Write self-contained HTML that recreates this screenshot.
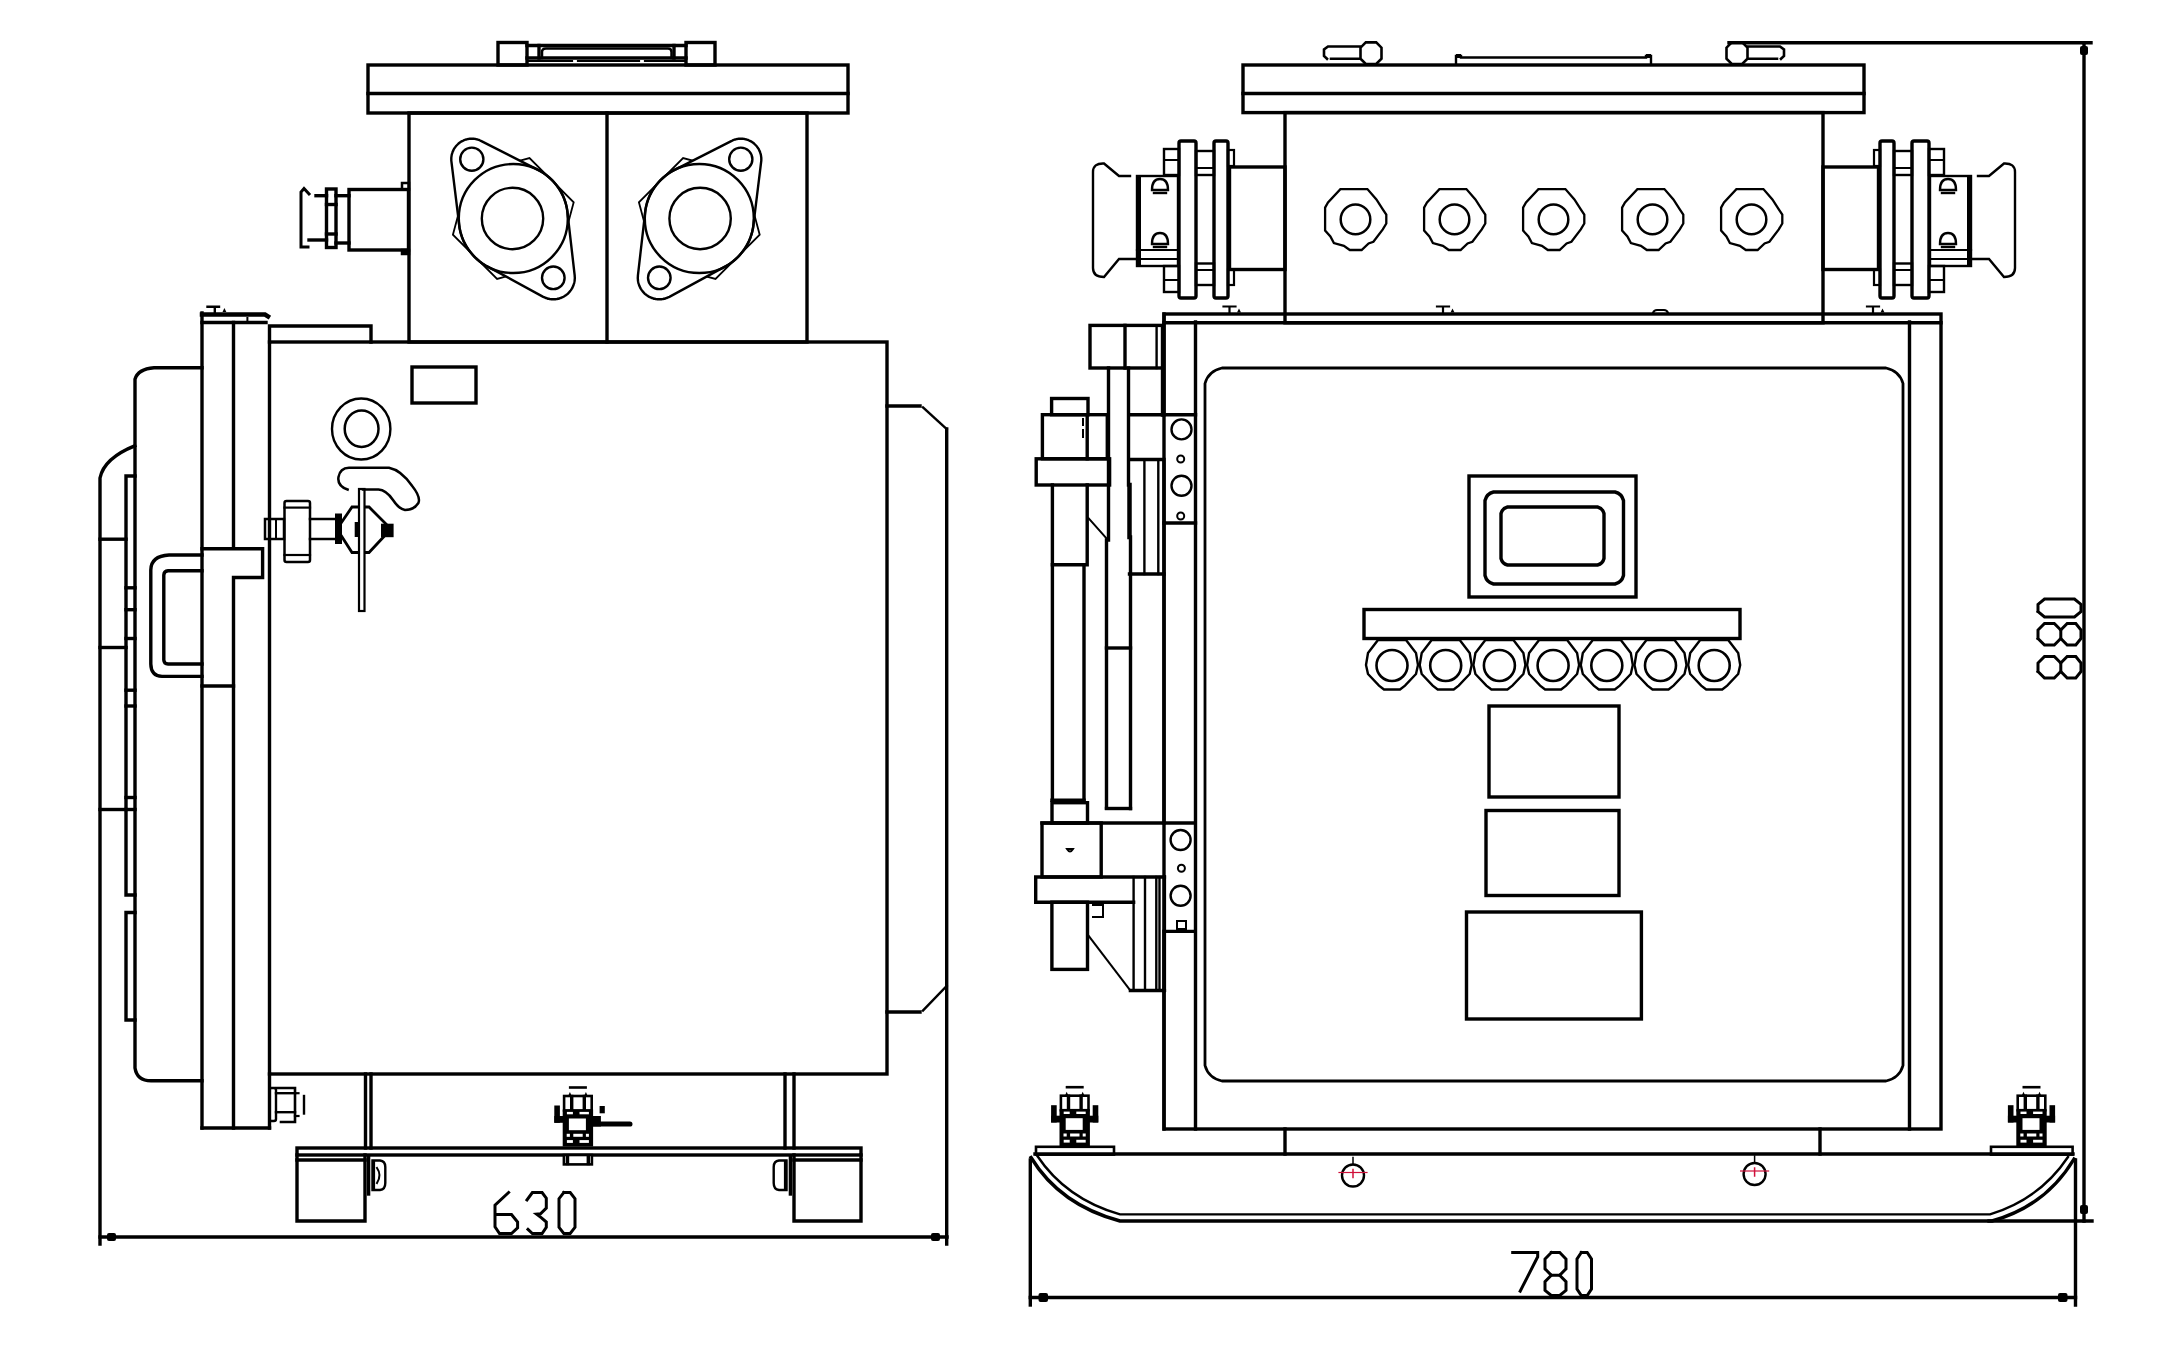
<!DOCTYPE html>
<html><head><meta charset="utf-8"><title>drawing</title>
<style>
html,body{margin:0;padding:0;background:#fff;}
body{width:2178px;height:1359px;overflow:hidden;font-family:"Liberation Sans",sans-serif;}
svg{display:block;}
</style></head><body>
<svg width="2178" height="1359" viewBox="0 0 2178 1359">
<rect x="0" y="0" width="2178" height="1359" fill="#fff"/>
<g fill="none" stroke="#000" stroke-width="3.4" stroke-linecap="square" stroke-linejoin="miter">
<rect x="368" y="65" width="480" height="48"/>
<line x1="368" y1="93.5" x2="848" y2="93.5"/>
<rect x="498" y="42.5" width="29" height="22.5"/>
<rect x="686" y="42.5" width="29" height="22.5"/>
<line x1="527" y1="45.5" x2="686" y2="45.5"/>
<line x1="527" y1="58" x2="686" y2="58"/>
<line x1="539" y1="45.5" x2="539" y2="58"/>
<line x1="674" y1="45.5" x2="674" y2="58"/>
<path d="M542 58 V52 Q542 48.5 546 48.5 H668 Q671.5 48.5 671.5 52 V58" stroke-width="2.5"/>
<path d="M529 61 H572 M578 61 H639 M645 61 H684" stroke-width="2.2"/>
<rect x="409" y="113" width="398" height="229"/>
<line x1="607" y1="113" x2="607" y2="342"/>
<polygon points="573.7,202.3 557.5,262.7 497.1,278.9 452.9,234.7 469.1,174.3 529.5,158.1" stroke-width="1.8"/>
<polygon points="451.3,159.2 451.3,158.5 451.3,157.8 451.4,157.1 451.5,156.3 451.6,155.6 451.7,154.9 451.9,154.2 452.1,153.5 452.3,152.9 452.5,152.2 452.8,151.5 453.1,150.9 453.4,150.2 453.7,149.6 454,148.9 454.4,148.3 454.8,147.7 455.2,147.2 455.6,146.6 456.1,146 456.6,145.5 457.1,145 457.6,144.5 458.1,144 458.6,143.5 459.2,143 459.8,142.6 460.3,142.2 460.9,141.8 461.6,141.4 462.2,141.1 462.8,140.8 463.5,140.5 464.1,140.2 464.8,139.9 465.5,139.7 466.1,139.5 466.8,139.3 467.5,139.1 468.2,139 468.9,138.9 469.7,138.8 470.4,138.7 471.1,138.7 471.8,138.7 472.5,138.7 473.2,138.7 473.9,138.8 474.7,138.9 475.4,139 476.1,139.1 476.8,139.3 477.5,139.5 478.1,139.7 478.8,139.9 479.5,140.2 480.1,140.5 480.8,140.8 481.4,141.1 538.9,170.4 540.5,171.3 542.2,172.3 543.8,173.3 545.3,174.4 546.9,175.6 548.3,176.8 549.8,178 551.2,179.3 552.5,180.6 553.8,182 555,183.5 556.2,184.9 557.4,186.5 558.5,188 559.5,189.6 560.5,191.2 561.4,192.9 562.3,194.6 563.1,196.3 563.8,198.1 564.5,199.9 565.1,201.7 565.7,203.5 566.2,205.3 566.6,207.2 567,209 567.3,210.9 567.5,212.8 574.7,275.6 574.7,276.3 574.8,277 574.8,277.8 574.8,278.6 574.7,279.3 574.7,280 574.6,280.8 574.5,281.5 574.3,282.3 574.2,283 574,283.7 573.7,284.4 573.5,285.2 573.2,285.9 572.9,286.5 572.6,287.2 572.3,287.9 571.9,288.6 571.5,289.2 571.1,289.8 570.7,290.4 570.2,291 569.8,291.6 569.3,292.2 568.8,292.7 568.2,293.3 567.7,293.8 567.1,294.3 566.5,294.7 565.9,295.2 565.3,295.6 564.7,296 564,296.4 563.4,296.8 562.7,297.1 562,297.4 561.4,297.7 560.7,298 559.9,298.2 559.2,298.5 558.5,298.7 557.8,298.8 557,299 556.3,299.1 555.5,299.2 554.8,299.2 554.1,299.3 553.3,299.3 552.5,299.3 551.8,299.2 551.1,299.2 550.3,299.1 549.6,299 548.8,298.8 548.1,298.7 547.4,298.5 546.7,298.2 545.9,298 545.2,297.7 544.6,297.4 543.9,297.1 543.2,296.8 487.7,266.6 486,265.7 484.4,264.7 482.8,263.7 481.3,262.6 479.7,261.4 478.3,260.2 476.8,259 475.4,257.7 474.1,256.4 472.8,255 471.6,253.5 470.4,252.1 469.2,250.5 468.1,249 467.1,247.4 466.1,245.8 465.2,244.1 464.3,242.4 463.5,240.7 462.8,238.9 462.1,237.1 461.5,235.3 460.9,233.5 460.4,231.7 460,229.8 459.6,228 459.3,226.1 459.1,224.2 451.4,161.3 451.3,160.6 451.3,159.9" stroke-width="2.4" fill="#fff"/>
<circle cx="513.3" cy="218.5" r="54.5" stroke-width="2.4"/>
<circle cx="512.5" cy="218.5" r="30.7" stroke-width="2.4"/>
<circle cx="471.8" cy="159.2" r="11.6" stroke-width="2.4"/>
<circle cx="553.3" cy="277.8" r="11.3" stroke-width="2.4"/>
<polygon points="638.9,202.3 655.1,262.7 715.5,278.9 759.7,234.7 743.5,174.3 683.1,158.1" stroke-width="1.8"/>
<polygon points="761.3,159.2 761.3,158.5 761.3,157.8 761.2,157.1 761.1,156.3 761,155.6 760.9,154.9 760.7,154.2 760.5,153.5 760.3,152.9 760.1,152.2 759.8,151.5 759.5,150.9 759.2,150.2 758.9,149.6 758.6,148.9 758.2,148.3 757.8,147.7 757.4,147.2 757,146.6 756.5,146 756,145.5 755.5,145 755,144.5 754.5,144 754,143.5 753.4,143 752.8,142.6 752.3,142.2 751.7,141.8 751,141.4 750.4,141.1 749.8,140.8 749.1,140.5 748.5,140.2 747.8,139.9 747.1,139.7 746.5,139.5 745.8,139.3 745.1,139.1 744.4,139 743.7,138.9 742.9,138.8 742.2,138.7 741.5,138.7 740.8,138.7 740.1,138.7 739.4,138.7 738.7,138.8 737.9,138.9 737.2,139 736.5,139.1 735.8,139.3 735.1,139.5 734.5,139.7 733.8,139.9 733.1,140.2 732.5,140.5 731.8,140.8 731.2,141.1 673.7,170.4 672,171.3 670.4,172.3 668.8,173.3 667.3,174.4 665.7,175.6 664.3,176.8 662.8,178 661.4,179.3 660.1,180.6 658.8,182 657.6,183.5 656.4,184.9 655.2,186.5 654.1,188 653.1,189.6 652.1,191.2 651.2,192.9 650.3,194.6 649.5,196.3 648.8,198.1 648.1,199.9 647.5,201.7 646.9,203.5 646.4,205.3 646,207.2 645.6,209 645.3,210.9 645.1,212.8 637.9,275.6 637.9,276.3 637.8,277 637.8,277.8 637.8,278.6 637.9,279.3 637.9,280 638,280.8 638.1,281.5 638.3,282.3 638.4,283 638.6,283.7 638.9,284.4 639.1,285.2 639.4,285.9 639.7,286.5 640,287.2 640.3,287.9 640.7,288.6 641.1,289.2 641.5,289.8 641.9,290.4 642.4,291 642.8,291.6 643.3,292.2 643.8,292.7 644.4,293.3 644.9,293.8 645.5,294.3 646.1,294.7 646.7,295.2 647.3,295.6 647.9,296 648.5,296.4 649.2,296.8 649.9,297.1 650.6,297.4 651.2,297.7 651.9,298 652.7,298.2 653.4,298.5 654.1,298.7 654.8,298.8 655.6,299 656.3,299.1 657.1,299.2 657.8,299.2 658.5,299.3 659.3,299.3 660.1,299.3 660.8,299.2 661.5,299.2 662.3,299.1 663,299 663.8,298.8 664.5,298.7 665.2,298.5 665.9,298.2 666.7,298 667.4,297.7 668,297.4 668.7,297.1 669.4,296.8 724.9,266.6 726.5,265.7 728.2,264.7 729.8,263.7 731.3,262.6 732.9,261.4 734.3,260.2 735.8,259 737.2,257.7 738.5,256.4 739.8,255 741,253.5 742.2,252.1 743.4,250.5 744.5,249 745.5,247.4 746.5,245.8 747.4,244.1 748.3,242.4 749.1,240.7 749.8,238.9 750.5,237.1 751.1,235.3 751.7,233.5 752.2,231.7 752.6,229.8 753,228 753.3,226.1 753.5,224.2 761.2,161.3 761.3,160.6 761.3,159.9" stroke-width="2.4" fill="#fff"/>
<circle cx="699.3" cy="218.5" r="54.5" stroke-width="2.4"/>
<circle cx="700.1" cy="218.5" r="30.7" stroke-width="2.4"/>
<circle cx="740.8" cy="159.2" r="11.6" stroke-width="2.4"/>
<circle cx="659.3" cy="277.8" r="11.3" stroke-width="2.4"/>
<rect x="349" y="189.5" width="59.5" height="60.5"/>
<rect x="402" y="183" width="7" height="6.5" stroke-width="2.5"/>
<rect x="402" y="250" width="7" height="4" stroke-width="2.5" fill="#000"/>
<rect x="326.5" y="189" width="9.5" height="58.5"/>
<line x1="326.5" y1="204.5" x2="336" y2="204.5"/>
<line x1="326.5" y1="234" x2="336" y2="234"/>
<line x1="336" y1="195.7" x2="349" y2="195.7"/>
<line x1="336" y1="243" x2="349" y2="243"/>
<line x1="316" y1="195.7" x2="326.5" y2="195.7"/>
<line x1="309" y1="240" x2="326.5" y2="240"/>
<path d="M308 247 H301 V192 L304 188.5 L309 194" stroke-width="3"/>
<rect x="269.5" y="342" width="617.5" height="732"/>
<path d="M269.5 342 V326 H371 V342"/>
<rect x="412" y="367" width="64" height="36"/>
<ellipse cx="361.2" cy="429" rx="29.2" ry="30.5" stroke-width="2.4"/>
<ellipse cx="361.6" cy="428.8" rx="16.9" ry="18.2" stroke-width="2.5"/>
<path d="M202 314.6 H265 L268 316.5" stroke-width="4.5"/>
<line x1="202" y1="313" x2="202" y2="1128"/>
<line x1="202" y1="322.5" x2="266" y2="322.5"/>
<line x1="247.4" y1="318" x2="247.4" y2="322" stroke-width="2"/>
<line x1="202" y1="1128" x2="269.5" y2="1128"/>
<line x1="269.5" y1="1074" x2="269.5" y2="1128"/>
<path d="M233.5 322.5 V548.8 M202 548.8 H262.6 V577.5 H233.5 V1128"/>
<line x1="202" y1="686" x2="233.5" y2="686"/>
<path d="M207.5 306.8 H219 M214.8 306.8 V312" stroke-width="2.4"/>
<polygon points="222.5,312 224.4,308 226.3,312" stroke-width="0" fill="#000"/>
<path d="M202 555 H169 Q151 556 150.8 570 V664 Q151 676 162 676.4 H202"/>
<path d="M202 570.7 H168 Q164 571 163.8 575 V660 Q164 664 168 664 H202"/>
<path d="M202 367.8 H154 Q138 369 135 379.3 V1068 Q137 1080.8 151 1080.8 H202"/>
<path d="M134.8 445.8 Q104 458 100 478 V1244"/>
<path d="M135 476 H126 V895 H135 M135 912.5 H126 V1020 H135"/>
<line x1="126" y1="587.8" x2="135" y2="587.8"/>
<line x1="126" y1="609.7" x2="135" y2="609.7"/>
<line x1="126" y1="638.5" x2="135" y2="638.5"/>
<line x1="126" y1="690.2" x2="135" y2="690.2"/>
<line x1="126" y1="706" x2="135" y2="706"/>
<line x1="126" y1="797.5" x2="135" y2="797.5"/>
<line x1="126" y1="809.5" x2="135" y2="809.5"/>
<line x1="100" y1="539.2" x2="126" y2="539.2"/>
<line x1="100" y1="647.5" x2="126" y2="647.5"/>
<line x1="100" y1="809.5" x2="126" y2="809.5"/>
<rect x="265" y="519" width="19" height="20" stroke-width="2.5"/>
<line x1="276" y1="519" x2="276" y2="539" stroke-width="2"/>
<rect x="284.5" y="501" width="25.5" height="61" rx="2" stroke-width="2.5"/>
<line x1="284.5" y1="507.6" x2="310" y2="507.6" stroke-width="2.2"/>
<line x1="284.5" y1="555" x2="310" y2="555" stroke-width="2.2"/>
<line x1="310" y1="519" x2="334" y2="519" stroke-width="2.5"/>
<line x1="310" y1="539" x2="334" y2="539" stroke-width="2.5"/>
<polygon points="337,529 352,507 369,507 391,529 369,552.5 352,552.5" stroke-width="2.8"/>
<rect x="335" y="513.5" width="7" height="30.5" stroke-width="0" fill="#000"/>
<rect x="381" y="523.7" width="12.6" height="13.5" stroke-width="0" fill="#000"/>
<rect x="354.7" y="522" width="3.3" height="15" stroke-width="0" fill="#000"/>
<rect x="359" y="489" width="5.5" height="122" stroke-width="2.2" fill="#fff"/>
<path d="M347.6 489.6 Q337 486 338.5 477 Q340 468 349 467.7 H389 Q401 470 412 485.7 Q421 497 418.4 503 Q414 510 405 510 Q399 509 393 500 Q386 490 378.5 489.6 H363" stroke-width="2.5"/>
<path d="M887 406 H920"/>
<line x1="923" y1="407.5" x2="946.7" y2="429" stroke-width="2.4"/>
<line x1="946.7" y1="429" x2="946.7" y2="1244"/>
<line x1="946.7" y1="986" x2="923" y2="1010.5" stroke-width="2.4"/>
<path d="M920 1012 H887"/>
<line x1="365.5" y1="1074" x2="365.5" y2="1148"/>
<line x1="371" y1="1074" x2="371" y2="1148"/>
<line x1="785" y1="1074" x2="785" y2="1148"/>
<line x1="794" y1="1074" x2="794" y2="1148"/>
<rect x="297" y="1148" width="564" height="7"/>
<path d="M297 1155 V1221 H365 V1155"/>
<line x1="297" y1="1160" x2="365" y2="1160"/>
<path d="M794 1155 V1221 H861 V1155"/>
<line x1="794" y1="1160" x2="861" y2="1160"/>
<path d="M368.6 1156 V1194"/>
<path d="M372.5 1160.5 H380 Q385.3 1161 385.3 1167 V1183 Q385.3 1189.5 380 1190 H372.5 Z" stroke-width="2.4"/>
<line x1="373.5" y1="1162" x2="373.5" y2="1189" stroke-width="3.2"/>
<path d="M377 1168 Q382 1175 377 1183" stroke-width="2"/>
<path d="M790.4 1156 V1194"/>
<path d="M786.5 1160.5 H779 Q773.7 1161 773.7 1167 V1183 Q773.7 1189.5 779 1190 H786.5 Z" stroke-width="2.4"/>
<line x1="785.5" y1="1162" x2="785.5" y2="1189" stroke-width="3.2"/>
<rect x="269.5" y="1088" width="6.5" height="33" rx="2" stroke-width="2.4"/>
<path d="M276 1088 H295 V1122 H281" stroke-width="2.6"/>
<line x1="276" y1="1093.2" x2="295" y2="1093.2" stroke-width="2.4"/>
<line x1="276" y1="1112.2" x2="295" y2="1112.2" stroke-width="2.4"/>
<line x1="295" y1="1093.2" x2="298.5" y2="1093.2" stroke-width="2.2"/>
<line x1="295" y1="1116" x2="298.5" y2="1116" stroke-width="2.2"/>
<line x1="304" y1="1096" x2="304" y2="1113.5" stroke-width="2.4"/>
<line x1="570.2" y1="1087.5" x2="585.6" y2="1087.5" stroke-width="2.6"/>
<polygon points="568.1,1096 569.9,1092 571.7,1096" stroke-width="0" fill="#000"/>
<polygon points="584.1,1096 585.9,1092 587.7,1096" stroke-width="0" fill="#000"/>
<rect x="564.1" y="1096" width="27.6" height="14.5" stroke-width="2.6" fill="#fff"/>
<line x1="571.7" y1="1096.5" x2="571.7" y2="1109.5" stroke-width="3.4"/>
<line x1="584.3" y1="1096.5" x2="584.3" y2="1109.5" stroke-width="3.4"/>
<rect x="562.7" y="1109.5" width="30.4" height="37" stroke-width="0" fill="#000"/>
<rect x="566.9" y="1111.9" width="6" height="2.4" stroke-width="0" fill="#fff"/>
<rect x="579.5" y="1111.9" width="9.4" height="2.4" stroke-width="0" fill="#fff"/>
<rect x="568.9" y="1118.5" width="17" height="11.7" stroke-width="0" fill="#fff"/>
<rect x="566.7" y="1133.8" width="3.2" height="3" stroke-width="0" fill="#fff"/>
<rect x="573.3" y="1133.8" width="9.4" height="3" stroke-width="0" fill="#fff"/>
<rect x="585.9" y="1133.8" width="3" height="3" stroke-width="0" fill="#fff"/>
<rect x="566.9" y="1140.1" width="6" height="2.8" stroke-width="0" fill="#fff"/>
<rect x="579.5" y="1140.1" width="9.4" height="2.8" stroke-width="0" fill="#fff"/>
<rect x="554.3" y="1105.5" width="5.6" height="17.3" stroke-width="0" fill="#000"/>
<rect x="554.3" y="1116" width="9.6" height="6.8" stroke-width="0" fill="#000"/>
<rect x="599.6" y="1106" width="5.2" height="7.3" stroke-width="0" fill="#000"/>
<rect x="591.9" y="1116" width="9" height="10.5" stroke-width="0" fill="#000"/>
<path d="M591.9 1124 H629.9" stroke-width="5.2" stroke-linecap="round"/>
<rect x="563.9" y="1155" width="28" height="9.4" stroke-width="2.6" fill="#fff"/>
<line x1="567.5" y1="1156" x2="567.5" y2="1163.5" stroke-width="3.4"/>
<line x1="588.3" y1="1156" x2="588.3" y2="1163.5" stroke-width="3.4"/>
<line x1="100" y1="1237" x2="947" y2="1237"/>
<rect x="107" y="1233" width="9" height="8" rx="2" stroke-width="0" fill="#000"/>
<rect x="931" y="1233" width="9" height="8" rx="2" stroke-width="0" fill="#000"/>
<polyline points="508.6,1192.5 495,1205.2 495,1226.9 499.5,1233.5 511.5,1233.5 517.6,1227.8 517.6,1222 511.5,1214.6 495,1214.6" stroke-width="3"/>
<polyline points="527,1199.9 532.4,1192.5 542.1,1192.5 546.3,1198.2 546.3,1208.1 540.5,1213.8 536.6,1214.2 541.5,1217.9 546.3,1222 546.3,1227.3 542.1,1233.5 532.4,1233.5 528,1229.4" stroke-width="3"/>
<polyline points="563.8,1192.5 570.2,1192.5 575,1198.7 575,1227.3 570.2,1233.5 563.8,1233.5 559,1227.3 559,1198.7 563.8,1192.5" stroke-width="3"/>
<rect x="1243" y="65" width="621" height="47.6"/>
<line x1="1243" y1="93.5" x2="1864" y2="93.5"/>
<path d="M1360 46.5 H1328 L1324 49.5 V56 L1327 58.8 M1331 58.8 H1360" stroke-width="2.6"/>
<polygon points="1365.8,42.4 1376.2,42.4 1381.5,47.7 1381.5,58.7 1376.2,64 1365.8,64 1360.5,58.7 1360.5,47.7" stroke-width="2.6" fill="#fff"/>
<path d="M1748 46.5 H1780 L1784 49.5 V56 L1781 58.8 M1777 58.8 H1748" stroke-width="2.6"/>
<polygon points="1742.2,42.4 1731.8,42.4 1726.5,47.7 1726.5,58.7 1731.8,64 1742.2,64 1747.5,58.7 1747.5,47.7" stroke-width="2.6" fill="#fff"/>
<path d="M1456 64.5 V56 H1461 V57.5 H1646 V56 H1651 V64.5" stroke-width="2.4"/>
<rect x="1456" y="54" width="5" height="4" stroke-width="0" fill="#000"/>
<rect x="1646" y="54" width="5" height="4" stroke-width="0" fill="#000"/>
<rect x="1285" y="112.6" width="538" height="210.2"/>
<polygon points="1340.4,189.1 1367.4,189.1 1376.4,199.4 1382.8,209.4 1386.3,214.7 1386.3,223.5 1382.8,229.4 1373.4,241.8 1368.6,243.5 1361.6,250 1349.8,250 1343.9,245.9 1333.9,243 1330.4,236.5 1325.1,230.6 1325.1,207.6 1328,202.4" stroke-width="2.3"/>
<circle cx="1355.5" cy="219.4" r="14.8" stroke-width="2.5"/>
<polygon points="1439.4,189.1 1466.4,189.1 1475.4,199.4 1481.8,209.4 1485.3,214.7 1485.3,223.5 1481.8,229.4 1472.4,241.8 1467.6,243.5 1460.6,250 1448.8,250 1442.9,245.9 1432.9,243 1429.4,236.5 1424.1,230.6 1424.1,207.6 1427,202.4" stroke-width="2.3"/>
<circle cx="1454.5" cy="219.4" r="14.8" stroke-width="2.5"/>
<polygon points="1538.4,189.1 1565.4,189.1 1574.4,199.4 1580.8,209.4 1584.3,214.7 1584.3,223.5 1580.8,229.4 1571.4,241.8 1566.6,243.5 1559.6,250 1547.8,250 1541.9,245.9 1531.9,243 1528.4,236.5 1523.1,230.6 1523.1,207.6 1526,202.4" stroke-width="2.3"/>
<circle cx="1553.5" cy="219.4" r="14.8" stroke-width="2.5"/>
<polygon points="1637.4,189.1 1664.4,189.1 1673.4,199.4 1679.8,209.4 1683.3,214.7 1683.3,223.5 1679.8,229.4 1670.4,241.8 1665.6,243.5 1658.6,250 1646.8,250 1640.9,245.9 1630.9,243 1627.4,236.5 1622.1,230.6 1622.1,207.6 1625,202.4" stroke-width="2.3"/>
<circle cx="1652.5" cy="219.4" r="14.8" stroke-width="2.5"/>
<polygon points="1736.4,189.1 1763.4,189.1 1772.4,199.4 1778.8,209.4 1782.3,214.7 1782.3,223.5 1778.8,229.4 1769.4,241.8 1764.6,243.5 1757.6,250 1745.8,250 1739.9,245.9 1729.9,243 1726.4,236.5 1721.1,230.6 1721.1,207.6 1724,202.4" stroke-width="2.3"/>
<circle cx="1751.5" cy="219.4" r="14.8" stroke-width="2.5"/>
<rect x="1229.5" y="167" width="55.5" height="102.5"/>
<rect x="1179" y="141" width="17" height="157" rx="2"/>
<rect x="1214" y="141" width="14" height="157" rx="2"/>
<rect x="1196" y="151" width="18" height="24" stroke-width="2.4"/>
<line x1="1196" y1="168" x2="1214" y2="168" stroke-width="2"/>
<rect x="1196" y="263.5" width="18" height="21.5" stroke-width="2.4"/>
<line x1="1196" y1="270" x2="1214" y2="270" stroke-width="2"/>
<rect x="1164" y="149" width="15" height="26" stroke-width="2.4"/>
<line x1="1164" y1="160" x2="1179" y2="160" stroke-width="2"/>
<rect x="1164" y="266" width="15" height="26" stroke-width="2.4"/>
<line x1="1164" y1="280" x2="1179" y2="280" stroke-width="2"/>
<rect x="1228" y="150" width="6" height="16" stroke-width="2.2"/>
<rect x="1228" y="269.5" width="6" height="15.5" stroke-width="2.2"/>
<rect x="1137" y="176" width="41" height="90" stroke-width="2.4"/>
<line x1="1139" y1="177" x2="1139" y2="265" stroke-width="4"/>
<line x1="1137" y1="250" x2="1178" y2="250" stroke-width="2.2"/>
<line x1="1137" y1="259" x2="1178" y2="259" stroke-width="2.2"/>
<path d="M1152 190 Q1152 179 1160 179 Q1168 179 1168 190 Z" stroke-width="2.4"/>
<line x1="1154" y1="193" x2="1166" y2="193" stroke-width="2.4"/>
<path d="M1152 244 Q1152 233 1160 233 Q1168 233 1168 244 Z" stroke-width="2.4"/>
<line x1="1154" y1="247" x2="1166" y2="247" stroke-width="2.4"/>
<path d="M1130 176 H1119 L1104 163.5 Q1093 163 1093 172 V268 Q1093 277 1104 277 L1119 259 H1137" stroke-width="2.4"/>
<rect x="1823" y="167" width="55.5" height="102.5"/>
<rect x="1912" y="141" width="17" height="157" rx="2"/>
<rect x="1880" y="141" width="14" height="157" rx="2"/>
<rect x="1894" y="151" width="18" height="24" stroke-width="2.4"/>
<line x1="1912" y1="168" x2="1894" y2="168" stroke-width="2"/>
<rect x="1894" y="263.5" width="18" height="21.5" stroke-width="2.4"/>
<line x1="1912" y1="270" x2="1894" y2="270" stroke-width="2"/>
<rect x="1929" y="149" width="15" height="26" stroke-width="2.4"/>
<line x1="1944" y1="160" x2="1929" y2="160" stroke-width="2"/>
<rect x="1929" y="266" width="15" height="26" stroke-width="2.4"/>
<line x1="1944" y1="280" x2="1929" y2="280" stroke-width="2"/>
<rect x="1874" y="150" width="6" height="16" stroke-width="2.2"/>
<rect x="1874" y="269.5" width="6" height="15.5" stroke-width="2.2"/>
<rect x="1930" y="176" width="41" height="90" stroke-width="2.4"/>
<line x1="1969" y1="177" x2="1969" y2="265" stroke-width="4"/>
<line x1="1971" y1="250" x2="1930" y2="250" stroke-width="2.2"/>
<line x1="1971" y1="259" x2="1930" y2="259" stroke-width="2.2"/>
<path d="M1956 190 Q1956 179 1948 179 Q1940 179 1940 190 Z" stroke-width="2.4"/>
<line x1="1954" y1="193" x2="1942" y2="193" stroke-width="2.4"/>
<path d="M1956 244 Q1956 233 1948 233 Q1940 233 1940 244 Z" stroke-width="2.4"/>
<line x1="1954" y1="247" x2="1942" y2="247" stroke-width="2.4"/>
<path d="M1978 176 H1989 L2004 163.5 Q2015 163 2015 172 V268 Q2015 277 2004 277 L1989 259 H1971" stroke-width="2.4"/>
<rect x="1164" y="314" width="777" height="815"/>
<line x1="1164" y1="322.8" x2="1941" y2="322.8"/>
<line x1="1195.5" y1="322" x2="1195.5" y2="1129"/>
<line x1="1909.5" y1="322" x2="1909.5" y2="1129"/>
<path d="M1222 368 H1886 Q1899.6 371.1 1903 383.5 V1065.5 Q1899.6 1077.9 1886 1081 H1222 Q1208.4 1077.9 1205 1065.5 V383.5 Q1208.4 371.1 1222 368 Z" stroke-width="2.8"/>
<rect x="1469" y="476" width="167" height="121"/>
<path d="M1493.5 492 H1615 Q1621.8 493.7 1623.5 500.5 V575.5 Q1621.8 582.3 1615 584 H1493.5 Q1486.7 582.3 1485 575.5 V500.5 Q1486.7 493.7 1493.5 492 Z"/>
<path d="M1507.5 507 H1597.5 Q1602.7 508.3 1604 513.5 V558.5 Q1602.7 563.7 1597.5 565 H1507.5 Q1502.3 563.7 1501 558.5 V513.5 Q1502.3 508.3 1507.5 507 Z"/>
<rect x="1364" y="609.5" width="376" height="29"/>
<polygon points="1378,640 1406,640 1416,653 1418,665 1416,674 1405,685.6 1400,689.5 1384,689.5 1379,685.6 1368,674 1366,665 1368,653" stroke-width="2.4"/>
<circle cx="1392" cy="665.5" r="15.5" stroke-width="2.6"/>
<polygon points="1431.7,640 1459.7,640 1469.7,653 1471.7,665 1469.7,674 1458.7,685.6 1453.7,689.5 1437.7,689.5 1432.7,685.6 1421.7,674 1419.7,665 1421.7,653" stroke-width="2.4"/>
<circle cx="1445.7" cy="665.5" r="15.5" stroke-width="2.6"/>
<polygon points="1485.4,640 1513.4,640 1523.4,653 1525.4,665 1523.4,674 1512.4,685.6 1507.4,689.5 1491.4,689.5 1486.4,685.6 1475.4,674 1473.4,665 1475.4,653" stroke-width="2.4"/>
<circle cx="1499.4" cy="665.5" r="15.5" stroke-width="2.6"/>
<polygon points="1539.1,640 1567.1,640 1577.1,653 1579.1,665 1577.1,674 1566.1,685.6 1561.1,689.5 1545.1,689.5 1540.1,685.6 1529.1,674 1527.1,665 1529.1,653" stroke-width="2.4"/>
<circle cx="1553.1" cy="665.5" r="15.5" stroke-width="2.6"/>
<polygon points="1592.8,640 1620.8,640 1630.8,653 1632.8,665 1630.8,674 1619.8,685.6 1614.8,689.5 1598.8,689.5 1593.8,685.6 1582.8,674 1580.8,665 1582.8,653" stroke-width="2.4"/>
<circle cx="1606.8" cy="665.5" r="15.5" stroke-width="2.6"/>
<polygon points="1646.5,640 1674.5,640 1684.5,653 1686.5,665 1684.5,674 1673.5,685.6 1668.5,689.5 1652.5,689.5 1647.5,685.6 1636.5,674 1634.5,665 1636.5,653" stroke-width="2.4"/>
<circle cx="1660.5" cy="665.5" r="15.5" stroke-width="2.6"/>
<polygon points="1700.2,640 1728.2,640 1738.2,653 1740.2,665 1738.2,674 1727.2,685.6 1722.2,689.5 1706.2,689.5 1701.2,685.6 1690.2,674 1688.2,665 1690.2,653" stroke-width="2.4"/>
<circle cx="1714.2" cy="665.5" r="15.5" stroke-width="2.6"/>
<rect x="1489" y="706" width="130" height="91"/>
<rect x="1486" y="810.5" width="133" height="85"/>
<rect x="1466.5" y="912" width="174.9" height="107"/>
<rect x="1090" y="325.4" width="72.5" height="42.6"/>
<line x1="1125" y1="325.4" x2="1125" y2="368"/>
<line x1="1156.6" y1="325.4" x2="1156.6" y2="368" stroke-width="2.4"/>
<line x1="1108.5" y1="368" x2="1108.5" y2="540"/>
<line x1="1106.5" y1="540" x2="1106.5" y2="808"/>
<line x1="1128.5" y1="368" x2="1128.5" y2="485"/>
<line x1="1129.5" y1="485" x2="1129.5" y2="537" stroke-width="4.5"/>
<line x1="1130.5" y1="537" x2="1130.5" y2="808.5"/>
<line x1="1106.5" y1="648" x2="1130.5" y2="648"/>
<line x1="1106.5" y1="808.5" x2="1130.5" y2="808.5"/>
<line x1="1162.5" y1="368" x2="1162.5" y2="415"/>
<rect x="1051.6" y="398.5" width="36.4" height="16.2"/>
<rect x="1042.4" y="414.7" width="64.9" height="44.1"/>
<line x1="1087.2" y1="414.7" x2="1087.2" y2="458.8"/>
<path d="M1083 419 V425 M1083 430 V437" stroke-width="2"/>
<rect x="1036.2" y="458.8" width="73.4" height="26.2"/>
<line x1="1052.4" y1="485" x2="1052.4" y2="800"/>
<path d="M1087.2 485 V564.7 H1052.4 M1084 564.7 V800"/>
<line x1="1088.7" y1="518.3" x2="1106.5" y2="538.4" stroke-width="2"/>
<path d="M1129.5 414.7 H1195.5"/>
<path d="M1129.5 459.5 H1164 V523 H1195.5"/>
<line x1="1144.4" y1="459.5" x2="1144.4" y2="574" stroke-width="2.4"/>
<line x1="1158.3" y1="459.5" x2="1158.3" y2="574" stroke-width="2.4"/>
<line x1="1129.5" y1="574" x2="1164" y2="574"/>
<line x1="1164" y1="314" x2="1164" y2="414.7"/>
<line x1="1164" y1="523" x2="1164" y2="823"/>
<circle cx="1181.5" cy="429.4" r="10" stroke-width="2.4"/>
<circle cx="1181.5" cy="485.8" r="10" stroke-width="2.4"/>
<circle cx="1180.7" cy="459" r="3.5" stroke-width="2"/>
<circle cx="1180.7" cy="516" r="3.5" stroke-width="2"/>
<rect x="1052" y="802.7" width="35.5" height="20.3"/>
<line x1="1052" y1="800.2" x2="1084" y2="800.2"/>
<path d="M1042 823 H1195.2"/>
<rect x="1042" y="823" width="59.2" height="54"/>
<path d="M1067 849 Q1070 854 1073 849 Z" stroke-width="2"/>
<path d="M1164.4 877 H1035.7 V902.2 H1133.6"/>
<rect x="1051.9" y="902.2" width="35.6" height="67.2"/>
<path d="M1088 905 V915 M1093 905 H1103 V917 H1093" stroke-width="2"/>
<line x1="1133.6" y1="877" x2="1133.6" y2="990.5" stroke-width="2.4"/>
<line x1="1145" y1="877" x2="1145" y2="990.5" stroke-width="2.4"/>
<line x1="1156.3" y1="877" x2="1156.3" y2="990.5" stroke-width="2.4"/>
<line x1="1159.5" y1="877" x2="1159.5" y2="990.5" stroke-width="2.4"/>
<line x1="1164.4" y1="877" x2="1164.4" y2="990.5"/>
<line x1="1130.4" y1="990.5" x2="1164.4" y2="990.5"/>
<line x1="1088.3" y1="935.4" x2="1130.4" y2="990.5" stroke-width="2"/>
<path d="M1164.4 931.4 H1195.2"/>
<line x1="1164" y1="931.4" x2="1164" y2="1129"/>
<circle cx="1180.6" cy="840" r="10" stroke-width="2.4"/>
<circle cx="1180.6" cy="895.8" r="10" stroke-width="2.4"/>
<circle cx="1181.4" cy="868.2" r="3.5" stroke-width="2"/>
<rect x="1177" y="921" width="9" height="8" stroke-width="2"/>
<path d="M1223.5 306.5 H1235.5 M1229.5 306.5 V312" stroke-width="2.2"/>
<polygon points="1237,312.5 1239,308.5 1241,312.5" stroke-width="0" fill="#000"/>
<path d="M1437 306.5 H1449 M1443 306.5 V312" stroke-width="2.2"/>
<polygon points="1450.5,312.5 1452.5,308.5 1454.5,312.5" stroke-width="0" fill="#000"/>
<path d="M1867 306.5 H1879 M1873 306.5 V312" stroke-width="2.2"/>
<polygon points="1880.5,312.5 1882.5,308.5 1884.5,312.5" stroke-width="0" fill="#000"/>
<path d="M1653 313 Q1654 310 1657 310 H1664 Q1667 310 1668 313" stroke-width="2.2"/>
<line x1="1285" y1="1129" x2="1285" y2="1154"/>
<line x1="1820" y1="1129" x2="1820" y2="1154"/>
<line x1="1035" y1="1154" x2="2073" y2="1154"/>
<path d="M1031 1157.5 Q1060 1205 1120 1221 H1992 Q2046 1206 2074 1159"/>
<path d="M1037 1155.5 Q1066 1199 1120 1214.4 H1990 Q2040 1199 2068 1157" stroke-width="2.4"/>
<line x1="1030.3" y1="1160" x2="1030.3" y2="1305"/>
<line x1="2075.5" y1="1160" x2="2075.5" y2="1305"/>
<line x1="1030.3" y1="1297.5" x2="2075.5" y2="1297.5"/>
<rect x="1038.5" y="1293" width="9.5" height="9" rx="2" stroke-width="0" fill="#000"/>
<rect x="2058" y="1293" width="9.5" height="9" rx="2" stroke-width="0" fill="#000"/>
<line x1="1729" y1="42.7" x2="2091" y2="42.7"/>
<line x1="2084" y1="42.7" x2="2084" y2="1221"/>
<line x1="1989" y1="1221" x2="2092" y2="1221"/>
<rect x="2080" y="46" width="8" height="9" rx="2" stroke-width="0" fill="#000"/>
<rect x="2080" y="1205" width="8" height="9" rx="2" stroke-width="0" fill="#000"/>
<rect x="1036" y="1146.8" width="78" height="7.8" stroke-width="2.6"/>
<rect x="1991" y="1146.8" width="81.6" height="7.8" stroke-width="2.6"/>
<line x1="1067" y1="1087.2" x2="1082.4" y2="1087.2" stroke-width="2.6"/>
<polygon points="1064.9,1095.7 1066.7,1091.7 1068.5,1095.7" stroke-width="0" fill="#000"/>
<polygon points="1080.9,1095.7 1082.7,1091.7 1084.5,1095.7" stroke-width="0" fill="#000"/>
<rect x="1060.9" y="1095.7" width="27.6" height="14.5" stroke-width="2.6" fill="#fff"/>
<line x1="1068.5" y1="1096.2" x2="1068.5" y2="1109.2" stroke-width="3.4"/>
<line x1="1081.1" y1="1096.2" x2="1081.1" y2="1109.2" stroke-width="3.4"/>
<rect x="1059.5" y="1109.2" width="30.4" height="37" stroke-width="0" fill="#000"/>
<rect x="1063.7" y="1111.6" width="6" height="2.4" stroke-width="0" fill="#fff"/>
<rect x="1076.3" y="1111.6" width="9.4" height="2.4" stroke-width="0" fill="#fff"/>
<rect x="1065.7" y="1118.2" width="17" height="11.7" stroke-width="0" fill="#fff"/>
<rect x="1063.5" y="1133.5" width="3.2" height="3" stroke-width="0" fill="#fff"/>
<rect x="1070.1" y="1133.5" width="9.4" height="3" stroke-width="0" fill="#fff"/>
<rect x="1082.7" y="1133.5" width="3" height="3" stroke-width="0" fill="#fff"/>
<rect x="1063.7" y="1139.8" width="6" height="2.8" stroke-width="0" fill="#fff"/>
<rect x="1076.3" y="1139.8" width="9.4" height="2.8" stroke-width="0" fill="#fff"/>
<rect x="1051.1" y="1105.2" width="5.6" height="17.3" stroke-width="0" fill="#000"/>
<rect x="1051.1" y="1115.7" width="9.6" height="6.8" stroke-width="0" fill="#000"/>
<rect x="1092.7" y="1105.2" width="5.6" height="17.3" stroke-width="0" fill="#000"/>
<rect x="1088.7" y="1115.7" width="9.6" height="6.8" stroke-width="0" fill="#000"/>
<line x1="2023.8" y1="1087.2" x2="2039.2" y2="1087.2" stroke-width="2.6"/>
<polygon points="2021.7,1095.7 2023.5,1091.7 2025.3,1095.7" stroke-width="0" fill="#000"/>
<polygon points="2037.7,1095.7 2039.5,1091.7 2041.3,1095.7" stroke-width="0" fill="#000"/>
<rect x="2017.7" y="1095.7" width="27.6" height="14.5" stroke-width="2.6" fill="#fff"/>
<line x1="2025.3" y1="1096.2" x2="2025.3" y2="1109.2" stroke-width="3.4"/>
<line x1="2037.9" y1="1096.2" x2="2037.9" y2="1109.2" stroke-width="3.4"/>
<rect x="2016.3" y="1109.2" width="30.4" height="37" stroke-width="0" fill="#000"/>
<rect x="2020.5" y="1111.6" width="6" height="2.4" stroke-width="0" fill="#fff"/>
<rect x="2033.1" y="1111.6" width="9.4" height="2.4" stroke-width="0" fill="#fff"/>
<rect x="2022.5" y="1118.2" width="17" height="11.7" stroke-width="0" fill="#fff"/>
<rect x="2020.3" y="1133.5" width="3.2" height="3" stroke-width="0" fill="#fff"/>
<rect x="2026.9" y="1133.5" width="9.4" height="3" stroke-width="0" fill="#fff"/>
<rect x="2039.5" y="1133.5" width="3" height="3" stroke-width="0" fill="#fff"/>
<rect x="2020.5" y="1139.8" width="6" height="2.8" stroke-width="0" fill="#fff"/>
<rect x="2033.1" y="1139.8" width="9.4" height="2.8" stroke-width="0" fill="#fff"/>
<rect x="2007.9" y="1105.2" width="5.6" height="17.3" stroke-width="0" fill="#000"/>
<rect x="2007.9" y="1115.7" width="9.6" height="6.8" stroke-width="0" fill="#000"/>
<rect x="2049.5" y="1105.2" width="5.6" height="17.3" stroke-width="0" fill="#000"/>
<rect x="2045.5" y="1115.7" width="9.6" height="6.8" stroke-width="0" fill="#000"/>
<circle cx="1353" cy="1175.5" r="11" stroke-width="2.4"/>
<line x1="1339" y1="1172.5" x2="1367" y2="1172.5" stroke-width="1.2" stroke="#d0103a"/>
<line x1="1353" y1="1169.5" x2="1353" y2="1177.5" stroke-width="1.5" stroke="#d0103a"/>
<line x1="1353" y1="1157.5" x2="1353" y2="1164.5" stroke-width="1.5"/>
<circle cx="1754.6" cy="1174" r="11" stroke-width="2.4"/>
<line x1="1740.6" y1="1171" x2="1768.6" y2="1171" stroke-width="1.2" stroke="#d0103a"/>
<line x1="1754.6" y1="1168" x2="1754.6" y2="1176" stroke-width="1.5" stroke="#d0103a"/>
<line x1="1754.6" y1="1156" x2="1754.6" y2="1163" stroke-width="1.5"/>
<polyline points="1512.7,1252.5 1537.7,1252.5 1537.7,1256.8 1520.2,1291.2" stroke-width="3"/>
<polyline points="1551.3,1252.5 1559.7,1252.5 1566,1259 1566,1268.8 1559.7,1275.3 1551.3,1275.3 1545,1268.8 1545,1259 1551.3,1252.5" stroke-width="3"/>
<polyline points="1551.3,1275.3 1545,1281.7 1545,1290.3 1551.3,1295.5 1559.7,1295.5 1566,1290.3 1566,1281.7 1559.7,1275.3" stroke-width="3"/>
<polyline points="1581.3,1252.5 1587.2,1252.5 1591.5,1259 1591.5,1289 1587.2,1295.5 1581.3,1295.5 1577,1289 1577,1259 1581.3,1252.5" stroke-width="3"/>
<g transform="translate(2081,678) rotate(-90)">
<polyline points="6.5,-43 15,-43 21.5,-36.5 21.5,-26.7 15,-20.2 6.5,-20.2 0,-26.7 0,-36.5 6.5,-43" stroke-width="3"/>
<polyline points="6.5,-20.2 0,-13.8 0,-5.2 6.5,0 15,0 21.5,-5.2 21.5,-13.8 15,-20.2" stroke-width="3"/>
<polyline points="39.5,-43 48,-43 54.5,-36.5 54.5,-26.7 48,-20.2 39.5,-20.2 33,-26.7 33,-36.5 39.5,-43" stroke-width="3"/>
<polyline points="39.5,-20.2 33,-13.8 33,-5.2 39.5,0 48,0 54.5,-5.2 54.5,-13.8 48,-20.2" stroke-width="3"/>
<polyline points="66.4,-43 73.6,-43 79,-36.5 79,-6.5 73.6,0 66.4,0 61,-6.5 61,-36.5 66.4,-43" stroke-width="3"/>
</g>
</g>
</svg>
</body></html>
